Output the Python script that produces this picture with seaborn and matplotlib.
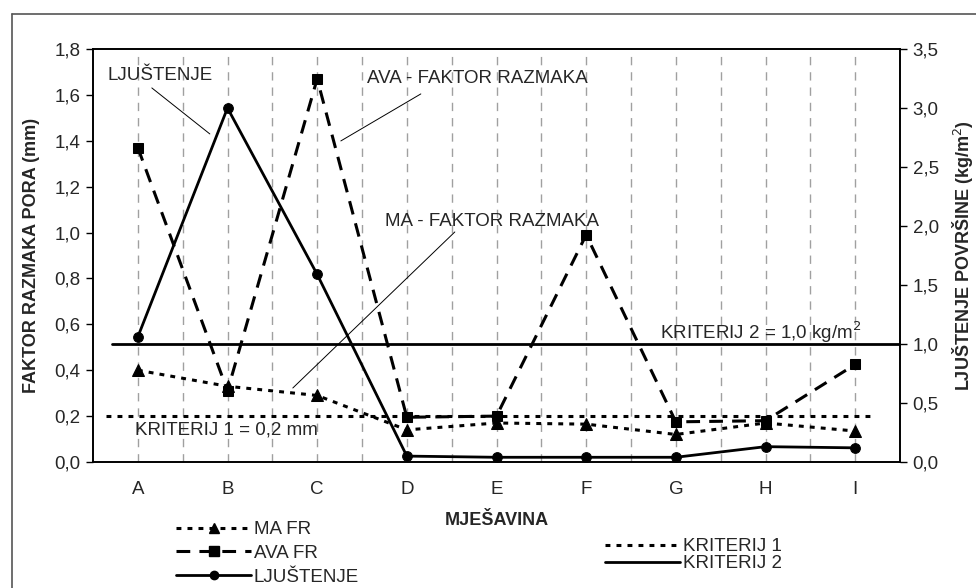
import numpy as np
import pandas as pd
import matplotlib
matplotlib.use("Agg")
import matplotlib.pyplot as plt
from matplotlib.lines import Line2D
import seaborn as sns

# ---- data ----
mjesavina = ["A", "B", "C", "D", "E", "F", "G", "H", "I"]
ma_fr = [0.40, 0.33, 0.29, 0.14, 0.17, 0.165, 0.12, 0.17, 0.135]
ava_fr = [1.37, 0.31, 1.67, 0.195, 0.20, 0.99, 0.175, 0.18, 0.425]
ljustenje = [1.06, 3.00, 1.59, 0.05, 0.04, 0.04, 0.04, 0.13, 0.12]
kriterij_1 = 0.2   # mm, left axis
kriterij_2 = 1.0   # kg/m2, right axis
left_ticks = [0.0, 0.2, 0.4, 0.6, 0.8, 1.0, 1.2, 1.4, 1.6, 1.8]
right_ticks = [0.0, 0.5, 1.0, 1.5, 2.0, 2.5, 3.0, 3.5]

df = pd.DataFrame({"mix": mjesavina, "ma": ma_fr, "ava": ava_fr, "lj": ljustenje})

sns.set_style("white")
plt.rcParams["font.family"] = ["Liberation Sans", "DejaVu Sans"]
FS = 13.5

fig = plt.figure(figsize=(9.76, 5.88), dpi=100)
W, H = 976, 588
ax = fig.add_axes([93 / W, 1 - 462 / H, (900 - 93) / W, (462 - 49) / H])
ax2 = ax.twinx()

dot = (0, (1.6, 2.0))
dash = (0, (4.5, 3.0))

sns.lineplot(data=df, x="mix", y="ma", ax=ax, color="black", marker="^", markersize=8,
             markeredgecolor="black", linewidth=2.2, linestyle=dot, sort=False)
sns.lineplot(data=df, x="mix", y="ava", ax=ax, color="black", marker="s", markersize=7.5,
             markeredgecolor="black", linewidth=2.2, linestyle=dash, sort=False)
sns.lineplot(data=df, x="mix", y="lj", ax=ax2, color="black", marker="o", markersize=7,
             markeredgecolor="black", linewidth=2.0, linestyle="-", sort=False)

ax.axhline(kriterij_1, xmin=0.016, xmax=0.97, color="black", linewidth=2.2, linestyle=dot, zorder=1)
ax2.axhline(kriterij_2, xmin=0.023, xmax=1.0, color="black", linewidth=2.0, linestyle="-", zorder=1)

ax.set_xlim(-0.5, 8.5)
ax.set_ylim(0, 1.8)
ax2.set_ylim(0, 3.5)

ax.set_yticks(left_ticks)
ax.set_yticklabels([f"{v:.1f}".replace(".", ",") for v in left_ticks], fontsize=FS)
ax2.set_yticks(right_ticks)
ax2.set_yticklabels([f"{v:.1f}".replace(".", ",") for v in right_ticks], fontsize=FS)
ax.set_xticks(range(len(mjesavina)))
ax.set_xticklabels(mjesavina, fontsize=FS)
ax.set_xticks(np.arange(0.5, len(mjesavina) - 0.5, 1.0), minor=True)

ax.tick_params(axis="x", which="major", direction="out", length=6, width=1, color="black", pad=8)
ax.tick_params(axis="x", which="minor", direction="in", length=5, width=1, color="black")
ax.tick_params(axis="y", direction="out", length=5, width=1, color="black", left=True, pad=4)
ax2.tick_params(axis="y", direction="out", length=5, width=1, color="black", right=True, pad=4)

ax.grid(False)
ax2.grid(False)
for xv in np.arange(0, len(mjesavina) - 0.5 + 0.01, 0.5):
    ax.axvline(xv, color="#a0a0a0", linewidth=1.0, linestyle=(0, (6, 5)), zorder=0)

for a in (ax, ax2):
    for s in a.spines.values():
        s.set_color("black")
        s.set_linewidth(1.2)

ax.set_xlabel("MJEŠAVINA", fontsize=FS - 0.5, fontweight="bold", labelpad=10)
ax.set_ylabel("FAKTOR RAZMAKA PORA (mm)", fontsize=FS - 0.5, fontweight="bold", labelpad=10)
ax2.set_ylabel("LJUŠTENJE POVRŠINE (kg/m$^2$)", fontsize=FS - 0.5, fontweight="bold", labelpad=8)

# annotations
def px2d(px, py):
    return ((px - 138) / 89.67, (462 - py) / 229.4)

line_kw = dict(arrowprops=dict(arrowstyle="-", color="black", linewidth=0.7, shrinkA=0, shrinkB=0))
ax.text(*px2d(108, 76), "LJUŠTENJE", fontsize=FS, va="center", ha="left")
ax.annotate("", xy=px2d(210, 134), xytext=px2d(152, 88), **line_kw)
ax.text(*px2d(367, 79), "AVA - FAKTOR RAZMAKA", fontsize=FS, va="center", ha="left")
ax.annotate("", xy=px2d(341, 141), xytext=px2d(421, 94), **line_kw)
ax.text(*px2d(385, 222), "MA - FAKTOR RAZMAKA", fontsize=FS, va="center", ha="left")
ax.annotate("", xy=px2d(293, 388), xytext=px2d(455, 232), **line_kw)
ax.text(*px2d(135, 430), "KRITERIJ 1 = 0,2 mm", fontsize=FS, va="center", ha="left")
ax.text(*px2d(660, 332), "KRITERIJ 2 = 1,0 kg/m$^2$", fontsize=FS, va="center", ha="left")

# legends
h_ma = Line2D([], [], color="black", marker="^", markersize=7, linewidth=2.2, linestyle=dot)
h_ava = Line2D([], [], color="black", marker="s", markersize=7, linewidth=2.2, linestyle=dash)
h_lj = Line2D([], [], color="black", marker="o", markersize=6, linewidth=2.0, linestyle="-")
h_k1 = Line2D([], [], color="black", linewidth=2.2, linestyle=dot)
h_k2 = Line2D([], [], color="black", linewidth=2.0, linestyle="-")

leg1 = fig.legend([h_ma, h_ava, h_lj], ["MA FR", "AVA FR", "LJUŠTENJE"],
                  loc="upper left", bbox_to_anchor=(176 / W, 1 - 521 / H), frameon=False,
                  fontsize=FS, handlelength=4.0, handletextpad=0.15, labelspacing=0.35,
                  borderpad=0, borderaxespad=0)
leg2 = fig.legend([h_k1, h_k2], ["KRITERIJ 1", "KRITERIJ 2"],
                  loc="upper left", bbox_to_anchor=(605 / W, 1 - 538 / H), frameon=False,
                  fontsize=FS, handlelength=4.0, handletextpad=0.15, labelspacing=0.0,
                  borderpad=0, borderaxespad=0)

# outer frame (partially visible)
fig.add_artist(Line2D([12 / W, 12 / W], [0, 1 - 14 / H], color="#555555", linewidth=1.2))
fig.add_artist(Line2D([12 / W, 1], [1 - 14 / H, 1 - 14 / H], color="#555555", linewidth=1.2))

fig.savefig("out.png", dpi=100)
